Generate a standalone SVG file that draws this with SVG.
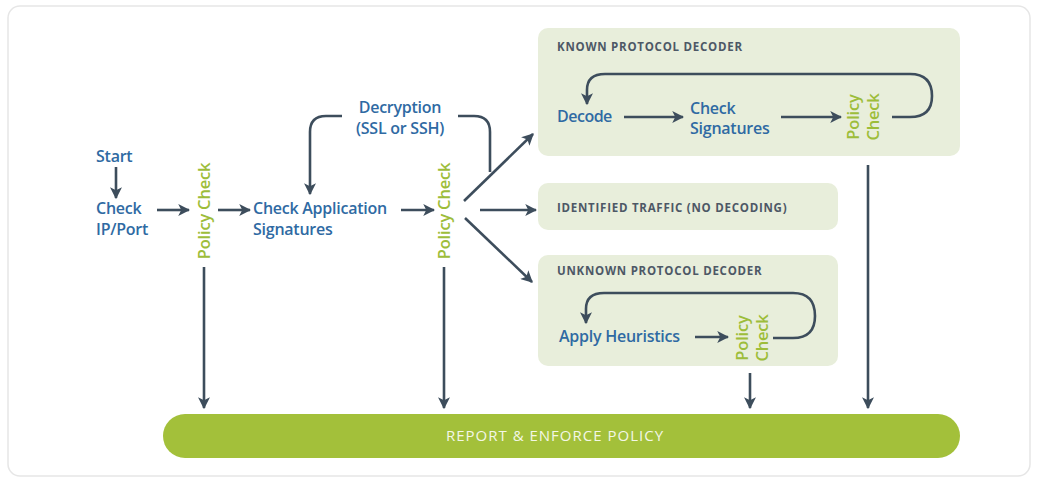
<svg xmlns="http://www.w3.org/2000/svg" width="1038" height="480" viewBox="0 0 1038 480">
<defs>
<marker id="ah" viewBox="0 0 10 10" refX="9" refY="5" markerWidth="4.6" markerHeight="4.6" orient="auto" markerUnits="strokeWidth">
<path d="M0,0 L10,5 L0,10 L2.5,5 z" fill="#3d4d5c"/>
</marker>
<style>
.ln{fill:none;stroke:#3d4d5c;stroke-width:2.6;}
.arr{marker-end:url(#ah);}
.lbl{font-family:"Open Sans","Noto Sans",sans-serif;font-weight:600;font-size:16px;fill:#2f6aa3;letter-spacing:-0.25px;}
.pc{font-family:"Open Sans","Noto Sans",sans-serif;font-weight:600;font-size:16.5px;fill:#9dbd3a;letter-spacing:-0.2px;}
.ttl{font-family:"Open Sans","Noto Sans",sans-serif;font-weight:700;font-size:11.5px;fill:#4d5866;letter-spacing:0.75px;}
.box{fill:#e8eedb;}
</style>
</defs>
<rect x="8" y="6" width="1022" height="470" rx="12" fill="#ffffff" stroke="#e6e6e6" stroke-width="1.5"/>

<g id="report">
<rect x="163" y="414" width="797" height="44" rx="22" fill="#a3c03a"/>
<text x="555" y="441" text-anchor="middle" font-family="'Open Sans','Noto Sans',sans-serif" font-size="15" fill="#f3f7e6" letter-spacing="1">REPORT &amp; ENFORCE POLICY</text>
</g>

<g id="known-decoder">
<rect class="box" x="538" y="28" width="422" height="128" rx="10"/>
<text class="ttl" x="557" y="51">KNOWN PROTOCOL DECODER</text>
<text class="lbl" x="557" y="122" style="letter-spacing:-0.5px">Decode</text>
<text class="lbl" x="690" y="114">Check</text>
<text class="lbl" x="690" y="134">Signatures</text>
<text class="pc" transform="translate(859,117) rotate(-90)" text-anchor="middle">Policy</text>
<text class="pc" transform="translate(879,117) rotate(-90)" text-anchor="middle">Check</text>
</g>

<g id="identified">
<rect class="box" x="538" y="183" width="300" height="47" rx="10"/>
<text class="ttl" x="557" y="212">IDENTIFIED TRAFFIC (NO DECODING)</text>
</g>

<g id="unknown-decoder">
<rect class="box" x="538" y="255" width="300" height="111" rx="10"/>
<text class="ttl" x="557" y="275">UNKNOWN PROTOCOL DECODER</text>
<text class="lbl" x="559" y="342">Apply Heuristics</text>
<text class="pc" transform="translate(748,338) rotate(-90)" text-anchor="middle">Policy</text>
<text class="pc" transform="translate(768,338) rotate(-90)" text-anchor="middle">Check</text>
</g>

<g id="start"><text class="lbl" x="96" y="162">Start</text></g>
<g id="check-ip"><text class="lbl" x="96" y="214">Check</text><text class="lbl" x="96" y="235">IP/Port</text></g>
<g id="policy-check-1"><text class="pc" transform="translate(210,211) rotate(-90)" text-anchor="middle">Policy Check</text></g>
<g id="check-app"><text class="lbl" x="253" y="214">Check Application</text><text class="lbl" x="253" y="235">Signatures</text></g>
<g id="policy-check-2"><text class="pc" transform="translate(450,211) rotate(-90)" text-anchor="middle">Policy Check</text></g>
<g id="decryption"><text class="lbl" x="400" y="113" text-anchor="middle">Decryption</text><text class="lbl" x="400" y="134" text-anchor="middle">(SSL or SSH)</text></g>

<g id="connectors">
<line class="ln arr" x1="116" y1="167" x2="116" y2="198"/>
<line class="ln arr" x1="157" y1="210" x2="189" y2="210"/>
<line class="ln arr" x1="218" y1="210" x2="250" y2="210"/>
<line class="ln arr" x1="401" y1="210" x2="434" y2="210"/>
<path class="ln arr" d="M342,116 L326,116 Q310,116 310,132 L310,194"/>
<path class="ln" d="M458,116 L474,116 Q490,116 490,132 L490,172"/>
<line class="ln arr" x1="464" y1="201" x2="533" y2="134"/>
<line class="ln arr" x1="480" y1="210" x2="536" y2="210"/>
<line class="ln arr" x1="465" y1="218" x2="532" y2="282"/>
<line class="ln arr" x1="204" y1="267" x2="204" y2="408"/>
<line class="ln arr" x1="444" y1="267" x2="444" y2="408"/>
<line class="ln arr" x1="750" y1="373" x2="750" y2="408"/>
<line class="ln arr" x1="868" y1="165" x2="868" y2="408"/>
<line class="ln arr" x1="624" y1="117" x2="683" y2="117"/>
<line class="ln arr" x1="781" y1="117" x2="841" y2="117"/>
<path class="ln arr" d="M892,117 L910,117 Q932,117 932,96 Q932,74 910,74 L605,74 Q587,74 587,90 L587,104"/>
<line class="ln arr" x1="695" y1="337" x2="728" y2="337"/>
<path class="ln arr" d="M773,338 L793,338 Q815,338 815,316 Q815,293 793,293 L604,293 Q586,293 586,309 L586,323"/>
</g>
</svg>
